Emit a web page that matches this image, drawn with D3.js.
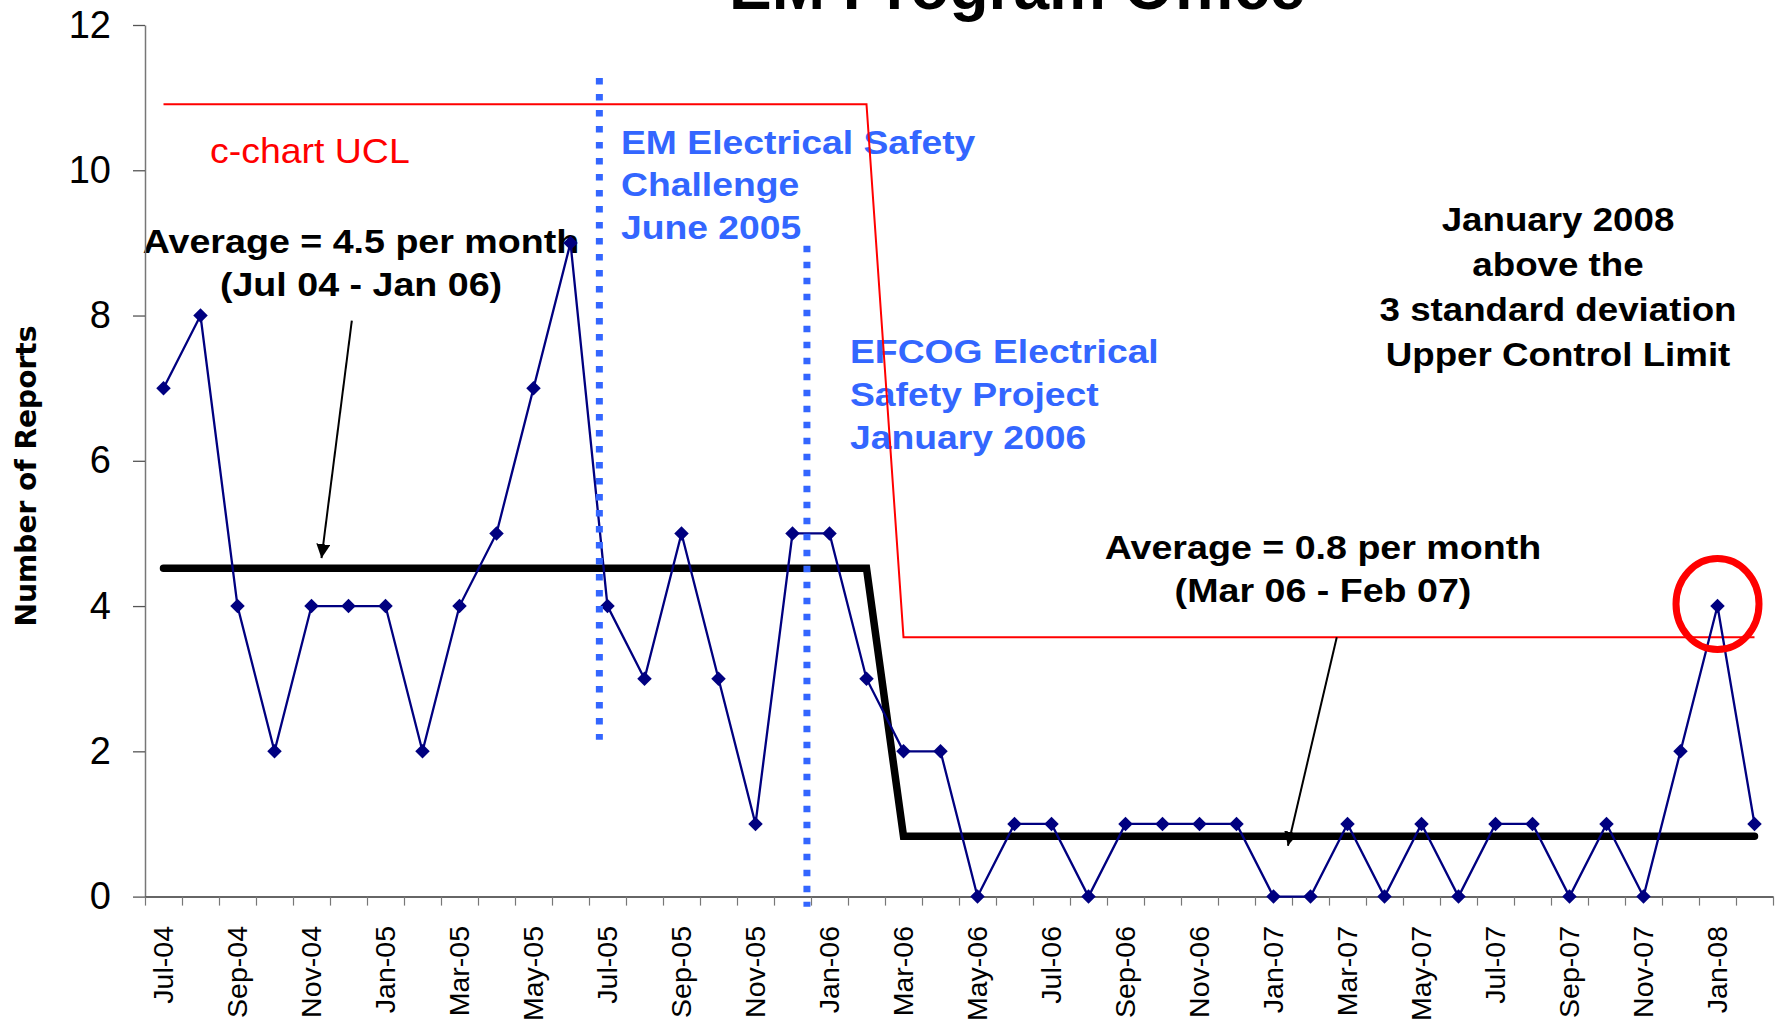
<!DOCTYPE html>
<html><head><meta charset="utf-8">
<script src="https://cdn.jsdelivr.net/npm/d3@7"></script>
<style>
body{margin:0;background:#fff;}
svg{display:block;font-family:"Liberation Sans",Arial,sans-serif;}
</style>
</head><body>
<svg id="c" width="1775" height="1021"></svg>
<script>
// ---------- data ----------
const months = ["Jul-04","Aug-04","Sep-04","Oct-04","Nov-04","Dec-04","Jan-05","Feb-05","Mar-05","Apr-05","May-05","Jun-05",
  "Jul-05","Aug-05","Sep-05","Oct-05","Nov-05","Dec-05","Jan-06","Feb-06","Mar-06","Apr-06","May-06","Jun-06",
  "Jul-06","Aug-06","Sep-06","Oct-06","Nov-06","Dec-06","Jan-07","Feb-07","Mar-07","Apr-07","May-07","Jun-07",
  "Jul-07","Aug-07","Sep-07","Oct-07","Nov-07","Dec-07","Jan-08","Feb-08"];
const reports = [7,8,4,2,4,4,4,2,4,5,7,9,4,3,5,3,1,5,5,3,2,2,0,1,1,0,1,1,1,1,0,0,1,0,1,0,1,1,0,1,0,2,4,1];
const uclValues = [10.91,10.91,10.91,10.91,10.91,10.91,10.91,10.91,10.91,10.91,10.91,10.91,10.91,10.91,10.91,10.91,10.91,10.91,10.91,10.91,
  3.57,3.57,3.57,3.57,3.57,3.57,3.57,3.57,3.57,3.57,3.57,3.57,3.57,3.57,3.57,3.57,3.57,3.57,3.57,3.57,3.57,3.57,3.57,3.57];
const averageValues = [4.52,4.52,4.52,4.52,4.52,4.52,4.52,4.52,4.52,4.52,4.52,4.52,4.52,4.52,4.52,4.52,4.52,4.52,4.52,4.52,
  0.83,0.83,0.83,0.83,0.83,0.83,0.83,0.83,0.83,0.83,0.83,0.83,0.83,0.83,0.83,0.83,0.83,0.83,0.83,0.83,0.83,0.83,0.83,0.83];
const yTicks = [0,2,4,6,8,10,12];
// event markers: position in months from Jul-04, vertical extent in report units
const eventLines = [{pos:11.78, from:11.27, to:2.16},{pos:17.39, from:8.96, to:-0.14}];
const arrows = [{x1:5.09,y1:7.93,x2:4.27,y2:4.66},{x1:31.71,y1:3.57,x2:30.39,y2:0.70}];
const highlightIndex = 42;
const title = "EM Program Office";
const yTitle = "Number of Reports";
const uclLabel = ["c-chart UCL"];
const avg1Label = ["Average = 4.5 per month","(Jul 04 - Jan 06)"];
const avg2Label = ["Average = 0.8 per month","(Mar 06 - Feb 07)"];
const event1Label = ["EM Electrical Safety","Challenge","June 2005"];
const event2Label = ["EFCOG Electrical","Safety Project","January 2006"];
const noteLabel = ["January 2008","above the","3 standard deviation","Upper Control Limit"];

// ---------- scales ----------
const svg = d3.select("#c");
const L = 145, R = 1773, T = 25, B = 896.6;
const xBand = d3.scaleBand().domain(months).range([L, R]).padding(0);
const xi = d3.scaleLinear().domain([-0.5, months.length - 0.5]).range([L, R]);
const y = d3.scaleLinear().domain([0, 12]).range([B, T]);

// ---------- text helper ----------
function textBlock(lines, x0, y0, opts) {
  const g = svg.append("g").attr("transform", `translate(${x0},${y0}) scale(${opts.sx||1},1)`);
  g.selectAll("text").data(lines).join("text")
    .attr("x", 0).attr("y", (d,i) => i * opts.lh)
    .attr("text-anchor", opts.anchor || "start")
    .attr("font-size", opts.size).attr("font-weight", opts.weight || "bold")
    .attr("fill", opts.fill || "#000")
    .text(d => d);
}

// title
svg.append("text").attr("x", 1017).attr("y", 9).attr("text-anchor","middle")
  .attr("font-size", 64).attr("font-weight","bold").text(title);

// y axis title
svg.append("text").attr("transform", "translate(36,476) rotate(-90)")
  .attr("text-anchor","middle").attr("font-family","'DejaVu Sans',Verdana,sans-serif")
  .attr("font-size", 29).attr("font-weight","bold").attr("textLength", 301)
  .attr("lengthAdjust","spacingAndGlyphs").text(yTitle);

// annotations (beneath lines)
textBlock(uclLabel, 210, 163, {size:35, weight:"normal", fill:"#FF0000", sx:1.07, lh:43});
textBlock(avg1Label, 361, 253, {size:33, anchor:"middle", sx:1.14, lh:43});
textBlock(avg2Label, 1323, 559, {size:33, anchor:"middle", sx:1.14, lh:43});
textBlock(event1Label, 621, 154, {size:33, fill:"#3366FF", sx:1.13, lh:42.5});
textBlock(event2Label, 850, 363, {size:33, fill:"#3366FF", sx:1.13, lh:43});
textBlock(noteLabel, 1558, 231, {size:34, anchor:"middle", sx:1.08, lh:45});

// ---------- axes ----------
const yAxis = svg.append("g").attr("transform", `translate(${L},0)`)
  .call(d3.axisLeft(y).tickValues(yTicks).tickSize(12).tickSizeOuter(0).tickPadding(22).tickFormat(d3.format("d")));
yAxis.select(".domain").attr("stroke","#777").attr("stroke-width",1.5);
yAxis.selectAll(".tick line").attr("stroke","#555").attr("stroke-width",1.3);
yAxis.selectAll(".tick text").attr("font-size",38).attr("font-family","'Liberation Sans',Arial,sans-serif").attr("fill","#000");

const boundaries = d3.range(months.length + 1).map(i => i - 0.5);
const xAxis = svg.append("g").attr("transform", `translate(0,${B})`)
  .call(d3.axisBottom(xi).tickValues(boundaries).tickSize(9).tickSizeOuter(0).tickFormat(""));
xAxis.select(".domain").attr("stroke","#333").attr("stroke-width",1.5);
xAxis.selectAll(".tick line").attr("stroke","#777").attr("stroke-width",1.2);

svg.append("g").selectAll("text").data(months.filter((d,i) => i % 2 === 0)).join("text")
  .attr("transform", d => `translate(${xBand(d) + xBand.bandwidth()/2},926) rotate(-90)`)
  .attr("text-anchor","end").attr("dy","0.35em").attr("font-size",28.5).attr("fill","#000")
  .text(d => d);

// ---------- lines ----------
const line = d3.line().x((d,i) => xi(i)).y(d => y(d));
svg.append("path").datum(uclValues).attr("d", line)
  .attr("fill","none").attr("stroke","#FF0000").attr("stroke-width",2);
svg.append("path").datum(averageValues).attr("d", line)
  .attr("fill","none").attr("stroke","#000").attr("stroke-width",7.5).attr("stroke-linecap","round");
svg.append("path").datum(reports).attr("d", line)
  .attr("fill","none").attr("stroke","#000080").attr("stroke-width",2.3);
svg.append("g").selectAll("path").data(reports).join("path")
  .attr("d", d3.symbol(d3.symbolSquare, 105))
  .attr("transform", (d,i) => `translate(${xi(i)},${y(d)}) rotate(45)`)
  .attr("fill","#000080");

// arrows
const defs = svg.append("defs");
defs.append("marker").attr("id","ah").attr("viewBox","0 0 10 10").attr("refX",10).attr("refY",5)
  .attr("markerWidth",14).attr("markerHeight",14).attr("markerUnits","userSpaceOnUse").attr("orient","auto")
  .append("path").attr("d","M0,0 L10,5 L0,10 z").attr("fill","#000");
svg.append("g").selectAll("line").data(arrows).join("line")
  .attr("x1", d => xi(d.x1)).attr("y1", d => y(d.y1))
  .attr("x2", d => xi(d.x2)).attr("y2", d => y(d.y2))
  .attr("stroke","#000").attr("stroke-width",2).attr("marker-end","url(#ah)");

// event dotted lines
svg.append("g").selectAll("line").data(eventLines).join("line")
  .attr("x1", d => xi(d.pos)).attr("x2", d => xi(d.pos))
  .attr("y1", d => y(d.from)).attr("y2", d => y(d.to))
  .attr("stroke","#3366FF").attr("stroke-width",7).attr("stroke-dasharray","6.5 9.5");

// highlight ellipse
svg.append("ellipse")
  .attr("cx", xi(highlightIndex)).attr("cy", y(reports[highlightIndex]) - 2)
  .attr("rx", 41.5).attr("ry", 45.5)
  .attr("fill","none").attr("stroke","#FF0000").attr("stroke-width",7);
</script>
</body></html>
